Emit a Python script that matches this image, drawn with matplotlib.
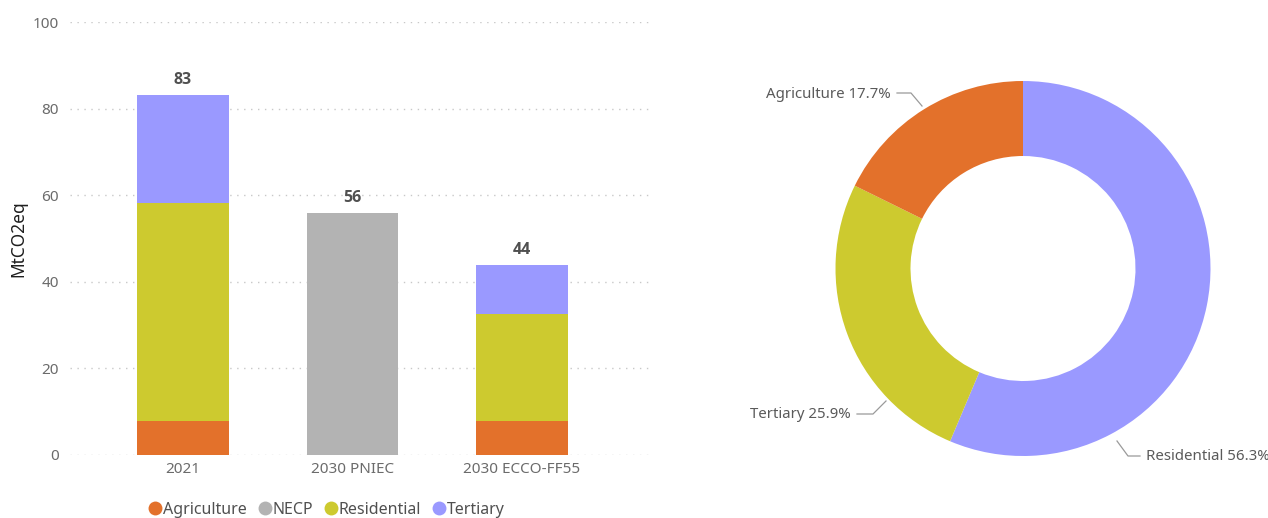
import matplotlib
matplotlib.use("Agg")
import matplotlib.pyplot as plt
from matplotlib.lines import Line2D
from matplotlib import font_manager
import numpy as np

plt.rcParams['font.family'] = ['Noto Sans', 'DejaVu Sans']

# Stacked bar data (MtCO2eq)
scenarios = ["2021", "2030 PNIEC", "2030 ECCO-FF55"]
agriculture = [7.8, 0.0, 7.8]
necp = [0.0, 56.0, 0.0]
residential = [50.4, 0.0, 24.8]
tertiary = [25.0, 0.0, 11.3]
totals_text = ["83", "56", "44"]

# Donut data (shares, %)
donut_labels = ["Residential", "Tertiary", "Agriculture"]
donut_values = [56.3, 25.9, 17.7]

C_AGR = "#E3712B"
C_NECP = "#B3B3B3"
C_RES = "#CDCA2F"
C_TER = "#9A99FF"
TICK_C = "#6b6b6b"

# pick a family that actually ships a bold face for the value labels
bold_family = "DejaVu Sans"
for fam in ["Noto Sans", "Open Sans", "Lato", "Roboto"]:
    try:
        f = font_manager.findfont(font_manager.FontProperties(family=fam, weight="bold"),
                                  fallback_to_default=False)
        if "bold" in f.lower() or "black" in f.lower() or "heavy" in f.lower():
            bold_family = fam
            break
    except Exception:
        pass

W, H = 1268, 518
fig = plt.figure(figsize=(W / 100, H / 100), dpi=100)

# ---------------- stacked bars ----------------
ax = fig.add_axes([70 / W, 1 - 455 / H, 580 / W, 433 / H])
x = np.arange(len(scenarios))
bw = 0.54
series = [("Agriculture", agriculture, C_AGR),
          ("NECP", necp, C_NECP),
          ("Residential", residential, C_RES),
          ("Tertiary", tertiary, C_TER)]
bottom = np.zeros(len(x))
for name, vals, col in series:
    vals = np.array(vals)
    ax.bar(x, vals, bw, bottom=bottom, color=col, linewidth=0, zorder=3)
    bottom += vals

for xi, top, txt in zip(x, bottom, totals_text):
    ax.annotate(txt, (xi, top), xytext=(0, 5), textcoords="offset points",
                ha="center", va="bottom", fontsize=11.5, fontweight="bold",
                family=[bold_family, "DejaVu Sans"], color="#505050")

ax.set_ylim(0, 100)
ax.set_xlim(-0.667, 2.755)
ax.set_yticks([0, 20, 40, 60, 80, 100])
ax.set_xticks(x)
ax.set_xticklabels(scenarios)
ax.grid(axis="y", linestyle=(0, (1, 4)), color="#c8c8c8", linewidth=1, zorder=0)
for s in ax.spines.values():
    s.set_visible(False)
ax.tick_params(axis="both", length=0, colors=TICK_C, labelsize=11)
ax.tick_params(axis="y", pad=8)
ax.tick_params(axis="x", pad=5)
ax.set_ylabel("MtCO2eq", fontsize=12.5, color="#1e1e1e")
ax.yaxis.set_label_coords(-(70 - 27) / 580, 0.5)

handles = [Line2D([0], [0], marker="o", linestyle="", markersize=10,
                  markerfacecolor=c, markeredgewidth=0, label=n)
           for n, _, c in series]
fig.legend(handles=handles, loc="center", bbox_to_anchor=(326 / W, 1 - 510 / H),
           ncol=4, frameon=False, fontsize=11.5, handletextpad=0.0,
           columnspacing=0.6, handlelength=1.0, labelcolor="#505050",
           borderaxespad=0, borderpad=0)

# ---------------- donut ----------------
cx, cy, R = 1023, 268.5, 187.5
dax = fig.add_axes([700 / W, 0, (W - 700) / W, 1])
wedges, _ = dax.pie(donut_values, colors=[C_TER, C_RES, C_AGR], startangle=90,
                    counterclock=False, radius=1.0,
                    wedgeprops=dict(width=0.4, linewidth=0))
dax.set_xlim((700 - cx) / R, (W - cx) / R)
dax.set_ylim(-(H - cy) / R, cy / R)
dax.set_aspect("auto")
dax.axis("off")

def px(xp, yp):
    return ((xp - cx) / R, (cy - yp) / R)

# leader line start, elbow and text anchor per slice (pixel positions)
label_geom = {
    "Agriculture": dict(start=(922, 106), elbow=(911, 93), text=(893, 93), ha="right"),
    "Tertiary": dict(start=(886, 401), elbow=(873, 414), text=(853, 414), ha="right"),
    "Residential": dict(start=(1117, 441), elbow=(1128, 456), text=(1144, 456), ha="left"),
}
for name, val in zip(donut_labels, donut_values):
    g = label_geom[name]
    p0, p1 = px(*g["start"]), px(*g["elbow"])
    p2 = px(g["text"][0] + (4 if g["ha"] == "right" else -4), g["text"][1])
    dax.plot([p0[0], p1[0], p2[0]], [p0[1], p1[1], p2[1]], color="#9a9a9a",
             linewidth=0.9, clip_on=False)
    pt = px(g["text"][0] + (-2 if g["ha"] == "right" else 2), g["text"][1] + 1)
    dax.text(pt[0], pt[1], f"{name} {val}%", ha=g["ha"], va="center",
             fontsize=10.8, color="#5a5a5a", clip_on=False)

fig.savefig("out.png", dpi=100, facecolor="white")
